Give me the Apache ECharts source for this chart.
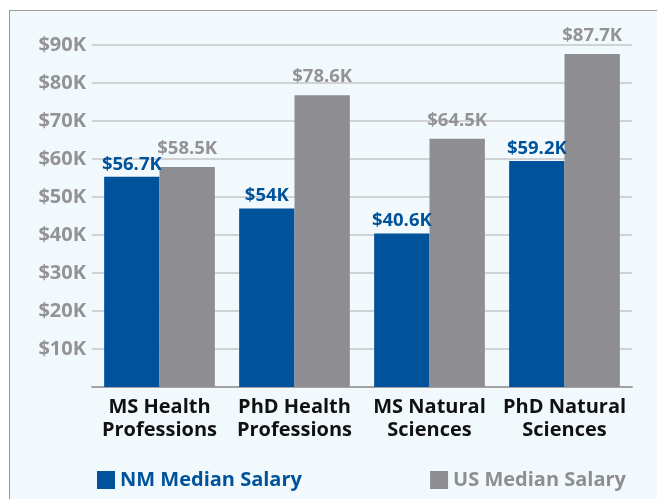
<!DOCTYPE html>
<html>
<head>
<meta charset="utf-8">
<script src="https://cdn.jsdelivr.net/npm/echarts@6/dist/echarts.min.js"></script>
<style>
  html, body { margin: 0; padding: 0; background: #ffffff; }
  #frame {
    position: absolute; left: 9px; top: 10px; width: 700px; height: 520px;
    background: #f2f9fc; border-left: 1.5px solid #9a9a9a; border-top: 1.5px solid #9a9a9a;
  }
  #chart { position: absolute; left: 0; top: 0; width: 657px; height: 499px; }
</style>
</head>
<body>
<div id="frame"></div>
<div id="chart"></div>
<script>
var categories = ["MS Health\nProfessions", "PhD Health\nProfessions", "MS Natural\nSciences", "PhD Natural\nSciences"];
// bar heights as drawn in the picture (thousands of $)
var nm_values = [55.3, 47.0, 40.4, 59.5];
var us_values = [57.9, 76.8, 65.3, 87.6];
// printed value labels
var nm_labels = ["$56.7K", "$54K", "$40.6K", "$59.2K"];
var us_labels = ["$58.5K", "$78.6K", "$64.5K", "$87.7K"];
var y_ticks = [0, 10, 20, 30, 40, 50, 60, 70, 80, 90];

var blue = "#00529b";
var grey = "#8e8d91";
var font = "Open Sans";

var chart = echarts.init(document.getElementById("chart"));

var option = {
  backgroundColor: "transparent",
  textStyle: { fontFamily: font },
  grid: { left: 92, right: 25, top: 45, bottom: 112 },
  legend: [
    {
      data: ["NM Median Salary"],
      left: 92, top: 465,
      icon: "rect", itemWidth: 18, itemHeight: 18,
      textStyle: { color: blue, fontSize: 20, fontWeight: "bold", fontFamily: font },
      selectedMode: false
    },
    {
      data: ["US Median Salary"],
      right: 26, top: 465,
      icon: "rect", itemWidth: 18, itemHeight: 18,
      textStyle: { color: grey, fontSize: 20, fontWeight: "bold", fontFamily: font },
      selectedMode: false
    }
  ],
  xAxis: {
    type: "category",
    data: categories,
    axisLine: { lineStyle: { color: "#a3a3a6", width: 2 } },
    axisTick: { show: false },
    axisLabel: {
      color: "#111111", fontSize: 20, fontWeight: "bold", fontFamily: font,
      lineHeight: 23, margin: 9, interval: 0
    }
  },
  yAxis: {
    type: "value",
    min: y_ticks[0],
    max: y_ticks[y_ticks.length - 1],
    interval: 10,
    axisLine: { show: false },
    axisTick: { show: false },
    splitLine: { lineStyle: { color: "#c4c5c8", width: 1.5 } },
    axisLabel: {
      color: "#939296", fontSize: 20, fontWeight: "bold", fontFamily: font, margin: 6,
      formatter: function (v) { return v === 0 ? "" : "$" + v + "K"; }
    }
  },
  series: [
    {
      name: "NM Median Salary",
      type: "bar",
      data: nm_values,
      barGap: "0%",
      barCategoryGap: "18%",
      itemStyle: { color: blue },
      label: {
        show: true, position: "top", distance: 3,
        color: blue, fontSize: 18.5, fontWeight: "bold", fontFamily: font,
        formatter: function (p) { return nm_labels[p.dataIndex]; }
      }
    },
    {
      name: "US Median Salary",
      type: "bar",
      data: us_values,
      itemStyle: { color: grey },
      label: {
        show: true, position: "top", distance: 9,
        color: "#939296", fontSize: 18.5, fontWeight: "bold", fontFamily: font,
        formatter: function (p) { return us_labels[p.dataIndex]; }
      }
    }
  ]
};
chart.setOption(option);
</script>
</body>
</html>
